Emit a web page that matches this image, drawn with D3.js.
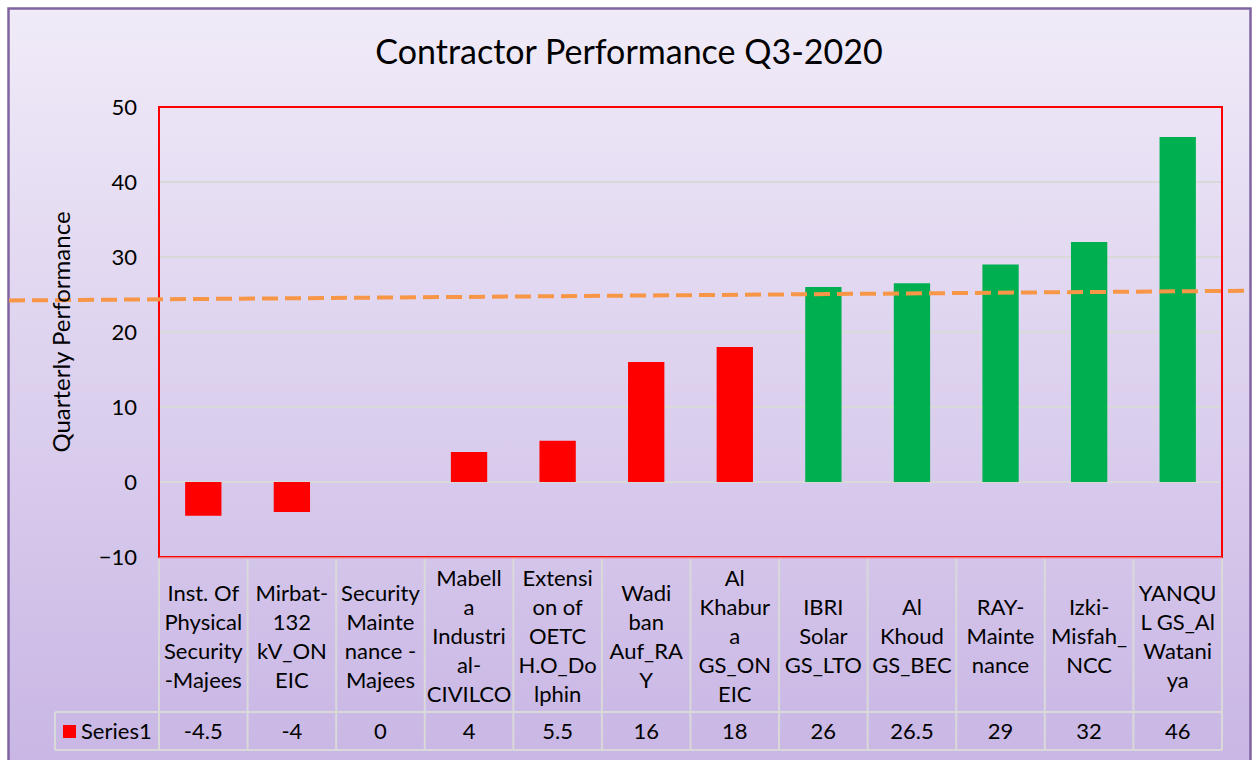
<!DOCTYPE html>
<html><head><meta charset="utf-8">
<script src="https://cdn.jsdelivr.net/npm/d3@7"></script>
<style>html,body{margin:0;padding:0;background:#fff;}svg{display:block;}</style>
</head><body>
<svg id="chart" width="1257" height="760"></svg>
<script>
const categories = [
  ["Inst. Of","Physical","Security","-Majees"],
  ["Mirbat-","132","kV_ON","EIC"],
  ["Security","Mainte","nance -","Majees"],
  ["Mabell","a","Industri","al-","CIVILCO"],
  ["Extensi","on of","OETC","H.O_Do","lphin"],
  ["Wadi","ban","Auf_RA","Y"],
  ["Al","Khabur","a","GS_ON","EIC"],
  ["IBRI","Solar","GS_LTO"],
  ["Al","Khoud","GS_BEC"],
  ["RAY-","Mainte","nance"],
  ["Izki-","Misfah_","NCC"],
  ["YANQU","L GS_Al","Watani","ya"]
];
const values = [-4.5, -4, 0, 4, 5.5, 16, 18, 26, 26.5, 29, 32, 46];
const valueLabels = ["-4.5","-4","0","4","5.5","16","18","26","26.5","29","32","46"];
const yTicks = [-10, 0, 10, 20, 30, 40, 50];
const targetLine = [24.2, 25.5];
const seriesName = "Series1";
const title = "Contractor Performance Q3-2020";
const yTitle = "Quarterly Performance";

const FONT = "Lato, 'Open Sans', sans-serif";
const svg = d3.select("#chart");
const W = 1257, H = 760;
const plot = {l:159, t:107, r:1222, b:557};

const defs = svg.append("defs");
const g = defs.append("linearGradient").attr("id","bg").attr("x1",0).attr("y1",0).attr("x2",0).attr("y2",1);
g.append("stop").attr("offset","0%").attr("stop-color","#f0ebf8");
g.append("stop").attr("offset","100%").attr("stop-color","#c8b5e4");

svg.append("rect").attr("x",0).attr("y",0).attr("width",W).attr("height",H).attr("fill","#ffffff");
svg.append("rect").attr("x",8.5).attr("y",8.5).attr("width",1242).attr("height",770)
  .attr("fill","url(#bg)").attr("stroke","#8064a2").attr("stroke-width",2.5);

const x = d3.scaleBand().domain(d3.range(values.length)).range([plot.l, plot.r]).paddingInner(0.59).paddingOuter(0.295);
const xCell = d3.scaleBand().domain(d3.range(values.length)).range([plot.l, plot.r]);
const y = d3.scaleLinear().domain([-10, 50]).range([plot.b, plot.t]);

// gridlines
svg.append("g").selectAll("line").data(yTicks.filter(t => t > -10 && t < 50)).join("line")
  .attr("x1", plot.l).attr("x2", plot.r).attr("y1", d => y(d)).attr("y2", d => y(d))
  .attr("stroke","#d9d9d9").attr("stroke-width",2);

// y axis labels
const yAxis = d3.axisLeft(y).tickValues(yTicks).tickSize(0).tickPadding(22);
const ya = svg.append("g").attr("transform",`translate(${plot.l},0)`).call(yAxis);
ya.select(".domain").remove();
ya.selectAll("text").attr("font-family",FONT).attr("font-size",22).attr("fill","#000");

// bars
svg.append("g").selectAll("rect").data(values).join("rect")
  .attr("x",(d,i)=>x(i)).attr("width",x.bandwidth())
  .attr("y",d=>y(Math.max(0,d))).attr("height",d=>Math.abs(y(d)-y(0)))
  .attr("fill",d=> d>=25 ? "#00b050" : "#ff0000");

// plot border
svg.append("rect").attr("x",plot.l).attr("y",plot.t).attr("width",plot.r-plot.l).attr("height",plot.b-plot.t)
  .attr("fill","none").attr("stroke","#ff0000").attr("stroke-width",2);

// data table
const tbl = svg.append("g");
const rowTop = plot.b, rowMid = 712, rowBot = 750, legL = 55;
const lc = "#d9d9d9";
tbl.append("line").attr("x1",plot.l).attr("x2",plot.r).attr("y1",rowTop+1).attr("y2",rowTop+1).attr("stroke","#e8a0b0").attr("stroke-width",1.5);
tbl.append("line").attr("x1",legL).attr("x2",plot.r).attr("y1",rowMid).attr("y2",rowMid).attr("stroke",lc).attr("stroke-width",2);
tbl.append("line").attr("x1",legL).attr("x2",plot.r).attr("y1",rowBot).attr("y2",rowBot).attr("stroke",lc).attr("stroke-width",2);
tbl.append("line").attr("x1",legL).attr("x2",legL).attr("y1",rowMid).attr("y2",rowBot).attr("stroke",lc).attr("stroke-width",2);
const bounds = d3.range(values.length+1).map(i => i<values.length ? xCell(i) : plot.r);
tbl.selectAll("line.v").data(bounds).join("line").attr("class","v")
  .attr("x1",d=>d).attr("x2",d=>d).attr("y1",rowTop+2).attr("y2",rowBot)
  .attr("stroke",lc).attr("stroke-width",2);

const lh = 29;
categories.forEach((lines,i)=>{
  const cx = xCell(i) + xCell.bandwidth()/2;
  const cy = (rowTop + rowMid)/2 + 2;
  const t = tbl.append("text").attr("font-family",FONT).attr("font-size",22).attr("text-anchor","middle").attr("fill","#000");
  lines.forEach((ln,k)=>{
    t.append("tspan").attr("x",cx).attr("y", cy + (k - (lines.length-1)/2)*lh).attr("dy","0.35em").text(ln);
  });
  tbl.append("text").attr("x",cx).attr("y",(rowMid+rowBot)/2).attr("dy","0.35em")
    .attr("font-family",FONT).attr("font-size",22).attr("text-anchor","middle").attr("fill","#000").text(valueLabels[i]);
});
tbl.append("rect").attr("x",63).attr("y",725).attr("width",13).attr("height",13).attr("fill","#ff0000");
tbl.append("text").attr("x",81).attr("y",(rowMid+rowBot)/2).attr("dy","0.35em")
  .attr("font-family",FONT).attr("font-size",22).attr("fill","#000").text(seriesName);

// dashed target line across chart
svg.append("line").attr("x1",9).attr("x2",1250)
  .attr("y1",y(targetLine[0])).attr("y2",y(targetLine[1]))
  .attr("stroke","#f79646").attr("stroke-width",4).attr("stroke-dasharray","16,7");

// titles
svg.append("text").attr("x",629).attr("y",52).attr("dy","0.35em").attr("text-anchor","middle")
  .attr("font-family",FONT).attr("font-size",34).attr("fill","#000").text(title);
svg.append("text").attr("transform",`translate(62,${(plot.t+plot.b)/2}) rotate(-90)`).attr("dy","0.35em")
  .attr("text-anchor","middle").attr("font-family",FONT).attr("font-size",24).attr("fill","#000").text(yTitle);
</script>
</body></html>
